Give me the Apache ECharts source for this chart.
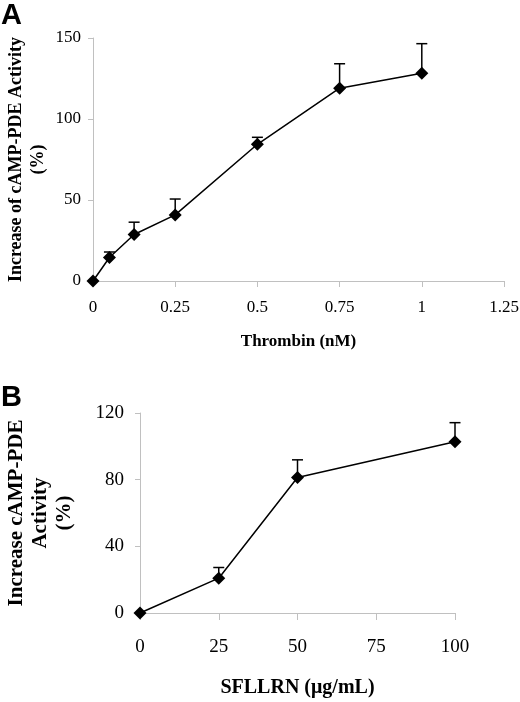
<!DOCTYPE html>
<html>
<head>
<meta charset="utf-8">
<script src="https://cdn.jsdelivr.net/npm/echarts@6/dist/echarts.min.js"></script>
<style>html,body{margin:0;padding:0;background:#fff;}#c{width:520px;height:702px;}</style>
</head>
<body>
<div id="c"></div>
<script>
// Panel A: thrombin
var thrombinDose = [0, 0.05, 0.125, 0.25, 0.5, 0.75, 1];
var thrombinMean = [0, 14.5, 28.7, 40.8, 84.4, 119.0, 128.3];
var thrombinErr  = [0, 3.4, 7.6, 9.8, 4.3, 15.1, 18.2];
var thrombinXTicks = [0, 0.25, 0.5, 0.75, 1, 1.25];
var thrombinYTicks = [0, 50, 100, 150];
// Panel B: SFLLRN
var sfllrnDose = [0, 25, 50, 100];
var sfllrnMean = [0, 20.9, 81.3, 102.7];
var sfllrnErr  = [0, 6.4, 10.6, 11.5];
var sfllrnXTicks = [0, 25, 50, 75, 100];
var sfllrnYTicks = [0, 40, 80, 120];

function pairs(xs, ys) { return xs.map(function (x, i) { return [x, ys[i]]; }); }
function errPairs(xs, ys, es) { return xs.map(function (x, i) { return [x, ys[i], ys[i] + es[i]]; }); }

function errorRender(params, api) {
  var x = api.value(0);
  var p0 = api.coord([x, api.value(1)]);
  var p1 = api.coord([x, api.value(2)]);
  if (Math.abs(p0[1] - p1[1]) < 0.5) return null;
  var cap = 5.5;
  var st = { stroke: '#000', lineWidth: 1.5 };
  return {
    type: 'group',
    children: [
      { type: 'line', shape: { x1: p0[0], y1: p0[1], x2: p1[0], y2: p1[1] }, style: st },
      { type: 'line', shape: { x1: p1[0] - cap, y1: p1[1], x2: p1[0] + cap, y2: p1[1] }, style: st }
    ]
  };
}

var serif = '"Liberation Serif", "Times New Roman", serif';
var axisGray = '#c0c0c0';

function xAxisCfg(idx, ticks, name, gap, margin, nameSize, labelSize, tickLen) {
  return {
    type: 'value', gridIndex: idx,
    min: ticks[0], max: ticks[ticks.length - 1], interval: ticks[1] - ticks[0],
    name: name, nameLocation: 'middle', nameGap: gap, nameMoveOverlap: false,
    nameTextStyle: { fontFamily: serif, fontWeight: 'bold', fontSize: nameSize, color: '#000' },
    axisLine: { show: true, lineStyle: { color: axisGray, width: 1 } },
    axisTick: { show: true, length: tickLen, lineStyle: { color: axisGray } },
    axisLabel: { fontFamily: serif, fontSize: labelSize, color: '#000', margin: margin,
      formatter: function (v) { return String(v); } },
    splitLine: { show: false }
  };
}
function yAxisCfg(idx, ticks, name, gap, margin, nameSize, lineH, labelSize) {
  return {
    type: 'value', gridIndex: idx,
    min: ticks[0], max: ticks[ticks.length - 1], interval: ticks[1] - ticks[0],
    name: name, nameLocation: 'middle', nameGap: gap, nameRotate: 90, nameMoveOverlap: false,
    nameTextStyle: { fontFamily: serif, fontWeight: 'bold', fontSize: nameSize, color: '#000', lineHeight: lineH },
    axisLine: { show: true, lineStyle: { color: axisGray, width: 1 } },
    axisTick: { show: true, length: 5, lineStyle: { color: axisGray } },
    axisLabel: { fontFamily: serif, fontSize: labelSize, color: '#000', margin: margin },
    splitLine: { show: false }
  };
}

var chart = echarts.init(document.getElementById('c'), null, { renderer: 'canvas' });
chart.setOption({
  animation: false,
  backgroundColor: '#fff',
  title: [
    { text: 'A', left: 1, top: 1, textStyle: { fontFamily: '"Liberation Sans", Arial, sans-serif', fontWeight: 'bold', fontSize: 29, color: '#000' }, padding: 0 },
    { text: 'B', left: 1, top: 383, textStyle: { fontFamily: '"Liberation Sans", Arial, sans-serif', fontWeight: 'bold', fontSize: 29, color: '#000' }, padding: 0 }
  ],
  grid: [
    { left: 93, right: 16, top: 38, bottom: 421, containLabel: false, outerBoundsMode: 'none' },
    { left: 140, right: 65, top: 413, bottom: 89, containLabel: false, outerBoundsMode: 'none' }
  ],
  xAxis: [
    xAxisCfg(0, thrombinXTicks, 'Thrombin (nM)', 52, 18, 17, 17, 6),
    xAxisCfg(1, sfllrnXTicks, 'SFLLRN (\u03bcg/mL)', 65, 25, 20, 19, 7)
  ],
  yAxis: [
    yAxisCfg(0, thrombinYTicks, 'Increase of cAMP-PDE Activity\n(%)', 44, 12, 18, 22, 17),
    yAxisCfg(1, sfllrnYTicks, 'Increase cAMP-PDE\nActivity\n(%)', 63, 16, 21, 24, 19)
  ],
  series: [
    { type: 'custom', xAxisIndex: 0, yAxisIndex: 0, renderItem: errorRender,
      data: errPairs(thrombinDose, thrombinMean, thrombinErr), z: 1, silent: true },
    { type: 'line', xAxisIndex: 0, yAxisIndex: 0, data: pairs(thrombinDose, thrombinMean),
      symbol: 'diamond', symbolSize: 13, showAllSymbol: true,
      lineStyle: { color: '#000', width: 1.5 }, itemStyle: { color: '#000' }, z: 3 },
    { type: 'custom', xAxisIndex: 1, yAxisIndex: 1, renderItem: errorRender,
      data: errPairs(sfllrnDose, sfllrnMean, sfllrnErr), z: 1, silent: true },
    { type: 'line', xAxisIndex: 1, yAxisIndex: 1, data: pairs(sfllrnDose, sfllrnMean),
      symbol: 'diamond', symbolSize: 13, showAllSymbol: true,
      lineStyle: { color: '#000', width: 1.5 }, itemStyle: { color: '#000' }, z: 3 }
  ]
});
</script>
</body>
</html>
